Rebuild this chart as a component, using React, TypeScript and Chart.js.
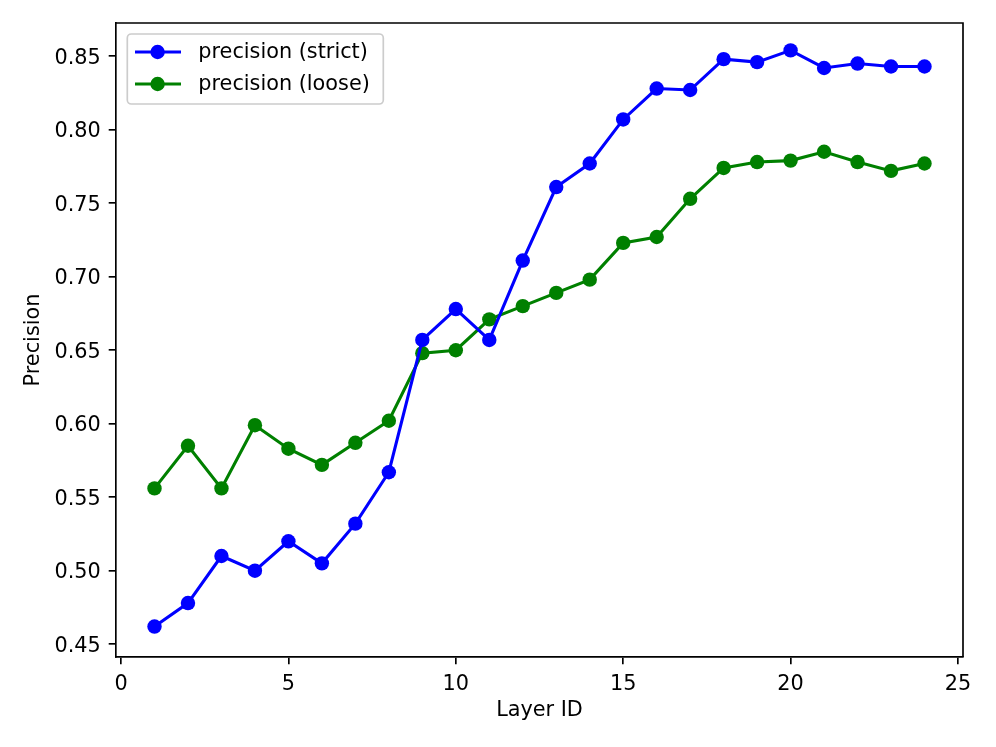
import React, { useEffect, useRef } from "react";
import { Chart, registerables } from "chart.js";

Chart.register(...registerables);

const layerIds = [1, 2, 3, 4, 5, 6, 7, 8, 9, 10, 11, 12, 13, 14, 15, 16, 17, 18, 19, 20, 21, 22, 23, 24];
const precisionStrict = [0.462, 0.478, 0.510, 0.500, 0.520, 0.505, 0.532, 0.567, 0.657, 0.678, 0.657, 0.711, 0.761, 0.777, 0.807, 0.828, 0.827, 0.848, 0.846, 0.854, 0.842, 0.845, 0.843, 0.843];
const precisionLoose = [0.556, 0.585, 0.556, 0.599, 0.583, 0.572, 0.587, 0.602, 0.648, 0.650, 0.671, 0.680, 0.689, 0.698, 0.723, 0.727, 0.753, 0.774, 0.778, 0.779, 0.785, 0.778, 0.772, 0.777];
const xTicks = [0, 5, 10, 15, 20, 25];
const yTicks = [0.45, 0.5, 0.55, 0.6, 0.65, 0.7, 0.75, 0.8, 0.85];
const seriesLabels = ["precision (strict)", "precision (loose)"];
const seriesColors = ["#0000ff", "#008000"];

const FONT = "'DejaVu Sans', sans-serif";
const FS = 20.8;
const MARKER_R = 7.2;

const frameAndLegend = {
  id: "frameAndLegend",
  afterDraw(chart: any) {
    const ctx = chart.ctx;
    const a = chart.chartArea;
    ctx.save();
    // top & right spines
    ctx.strokeStyle = "#000";
    ctx.lineWidth = 1.67;
    ctx.beginPath();
    ctx.moveTo(a.left, a.top);
    ctx.lineTo(a.right, a.top);
    ctx.lineTo(a.right, a.bottom);
    ctx.stroke();

    // legend
    const bx = a.left + 11.3, by = a.top + 11, bw = 256, bh = 70, r = 4;
    ctx.beginPath();
    ctx.moveTo(bx + r, by);
    ctx.lineTo(bx + bw - r, by);
    ctx.arcTo(bx + bw, by, bx + bw, by + r, r);
    ctx.lineTo(bx + bw, by + bh - r);
    ctx.arcTo(bx + bw, by + bh, bx + bw - r, by + bh, r);
    ctx.lineTo(bx + r, by + bh);
    ctx.arcTo(bx, by + bh, bx, by + bh - r, r);
    ctx.lineTo(bx, by + r);
    ctx.arcTo(bx, by, bx + r, by, r);
    ctx.closePath();
    ctx.fillStyle = "rgba(255,255,255,0.8)";
    ctx.fill();
    ctx.strokeStyle = "#cccccc";
    ctx.lineWidth = 1.67;
    ctx.stroke();

    const rows = [by + 18, by + 50];
    seriesLabels.forEach((lab, i) => {
      const y = rows[i];
      ctx.strokeStyle = seriesColors[i];
      ctx.lineWidth = 3.1;
      ctx.beginPath();
      ctx.moveTo(bx + 7.7, y);
      ctx.lineTo(bx + 53.7, y);
      ctx.stroke();
      ctx.fillStyle = seriesColors[i];
      ctx.beginPath();
      ctx.arc(bx + 30.3, y, MARKER_R, 0, Math.PI * 2);
      ctx.fill();
      ctx.fillStyle = "#000";
      ctx.font = `${FS}px ${FONT}`;
      ctx.textBaseline = "middle";
      ctx.textAlign = "left";
      ctx.fillText(lab, bx + 71, y + 1);
    });
    ctx.restore();
  },
};

export default function App() {
  const ref = useRef<HTMLCanvasElement | null>(null);
  useEffect(() => {
    if (!ref.current) return;
    const mk = (vals: number[]) => layerIds.map((x, i) => ({ x, y: vals[i] }));
    const chart = new Chart(ref.current, {
      type: "line",
      data: {
        datasets: [precisionStrict, precisionLoose].map((vals, i) => ({
          label: seriesLabels[i],
          data: mk(vals),
          borderColor: seriesColors[i],
          backgroundColor: seriesColors[i],
          borderWidth: 3.1,
          pointRadius: MARKER_R,
          pointHoverRadius: MARKER_R,
          pointBorderWidth: 0,
          pointBackgroundColor: seriesColors[i],
          tension: 0,
          fill: false,
        })),
      },
      options: {
        responsive: false,
        animation: false,
        devicePixelRatio: 1,
        layout: { padding: { top: 23, right: 33, left: 0, bottom: 0 } },
        plugins: { legend: { display: false }, tooltip: { enabled: false } },
        scales: {
          x: {
            type: "linear",
            min: -0.15,
            max: 25.15,
            afterFit: (s: any) => { s.height = 90; },
            afterBuildTicks: (s: any) => { s.ticks = xTicks.map((v) => ({ value: v })); },
            grid: { display: true, drawOnChartArea: false, drawTicks: true, tickLength: 7.3, color: "#000", lineWidth: 1.67 },
            border: { display: true, color: "#000", width: 1.67 },
            ticks: { color: "#000", padding: 8, font: { family: FONT, size: FS }, maxRotation: 0, autoSkip: false, callback: (v: any) => String(v) },
            title: { display: true, text: "Layer ID", color: "#000", font: { family: FONT, size: FS }, padding: { top: 0, bottom: 24 } },
          },
          y: {
            type: "linear",
            min: 0.4413,
            max: 0.8726,
            afterFit: (s: any) => { s.width = 116; },
            afterBuildTicks: (s: any) => { s.ticks = yTicks.map((v) => ({ value: v })); },
            grid: { display: true, drawOnChartArea: false, drawTicks: true, tickLength: 7.3, color: "#000", lineWidth: 1.67 },
            border: { display: true, color: "#000", width: 1.67 },
            ticks: { color: "#000", padding: 8, labelOffset: 2, font: { family: FONT, size: FS }, autoSkip: false, callback: (v: any) => Number(v).toFixed(2) },
            title: { display: true, text: "Precision", color: "#000", font: { family: FONT, size: FS }, padding: { top: 21, bottom: 0 } },
          },
        },
      },
      plugins: [frameAndLegend],
    });
    return () => chart.destroy();
  }, []);
  return (
    <div style={{ position: "absolute", left: 0, top: 0, width: 996, height: 747, background: "#fff" }}>
      <canvas ref={ref} width={996} height={747} style={{ width: 996, height: 747 }} />
    </div>
  );
}
